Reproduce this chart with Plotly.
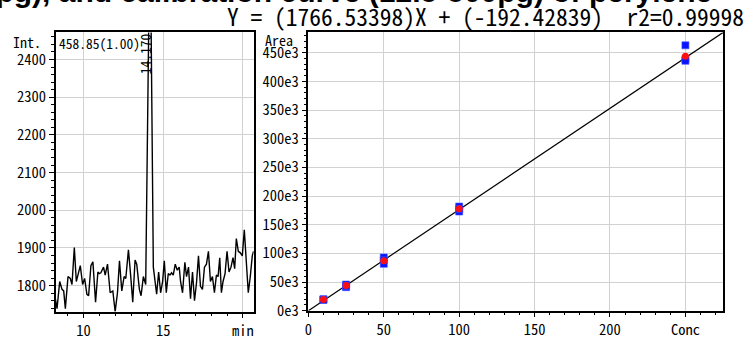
import plotly.graph_objects as go

# ---- chromatogram (m/z 458.85) ----
ret_time = [8.229, 8.333, 8.5, 8.646, 8.75, 8.854, 9.021, 9.167, 9.271, 9.417, 9.542, 9.688,
            9.792, 9.938, 10.063, 10.208, 10.313, 10.458, 10.583, 10.75, 10.896, 10.979, 11.083,
            11.25, 11.354, 11.5, 11.667, 11.833, 11.979, 12.125, 12.25, 12.396, 12.542, 12.646,
            12.813, 12.958, 13.083, 13.229, 13.333, 13.5, 13.604, 13.75, 13.896, 14.17, 14.375,
            14.583, 14.708, 14.833, 14.958, 15.063, 15.188, 15.313, 15.417, 15.521, 15.625,
            15.75, 15.875, 16.0, 16.083, 16.208, 16.354, 16.458, 16.583, 16.708, 16.833, 16.958,
            17.083, 17.208, 17.333, 17.458, 17.583, 17.708, 17.833, 17.958, 18.083, 18.208,
            18.333, 18.438, 18.542, 18.646, 18.75, 18.875, 19.0, 19.125, 19.25, 19.375, 19.479,
            19.583, 19.708, 19.833, 19.958, 20.083, 20.208, 20.333, 20.458, 20.583, 20.667]
intensity = [1765, 1739, 1811, 1790, 1786, 1739, 1824, 1819, 1803, 1901, 1811, 1832,
             1853, 1803, 1819, 1777, 1773, 1853, 1863, 1756, 1836, 1832, 1834,
             1849, 1828, 1857, 1781, 1786, 1731, 1781, 1866, 1786, 1824, 1819,
             1895, 1824, 1756, 1868, 1857, 1790, 1773, 1824, 1803, 2790, 1849,
             1777, 1836, 1781, 1811, 1866, 1781, 1832, 1828, 1834, 1828,
             1857, 1841, 1849, 1811, 1781, 1862, 1824, 1849, 1765, 1836, 1760,
             1807, 1879, 1798, 1790, 1849, 1857, 1891, 1811, 1824, 1781,
             1828, 1824, 1874, 1781, 1811, 1832, 1891, 1836, 1849, 1874, 1845,
             1925, 1891, 1887, 1879, 1948, 1866, 1781, 1824, 1879, 1891]

# ---- calibration ----
conc_levels = [10, 25, 50, 100, 250]
rep_conc = [10, 10, 10, 25, 25, 25, 50, 50, 50, 100, 100, 100, 250, 250, 250]
rep_area = [20000, 19500, 18800, 45600, 41000, 43200, 92800, 81700, 88000,
            181700, 173000, 177500, 463000, 439000, 436000]
mean_area = [19300, 44000, 87300, 177800, 444000]
slope = 1766.53398
intercept = -192.42839
r2 = 0.99998

chrom_xticks = [10, 15, 20]
chrom_xtext = ["10", "15", "min"]
chrom_yticks = [1800, 1900, 2000, 2100, 2200, 2300, 2400]
cal_xticks = [0, 50, 100, 150, 200, 250]
cal_xtext = ["0", "50", "100", "150", "200", "Conc"]
cal_yticks = [0, 50e3, 100e3, 150e3, 200e3, 250e3, 300e3, 350e3, 400e3, 450e3]
cal_ytext = ["0e3", "50e3", "100e3", "150e3", "200e3", "250e3", "300e3", "350e3", "400e3", "450e3"]

W, H = 745, 340
MONO = "Noto Sans Mono CJK JP, Liberation Mono, monospace"
TICKFONT = dict(family=MONO, size=14.5, color="black")
GRID = "#d2d2d2"

fig = go.Figure()

fig.add_trace(go.Scatter(x=ret_time, y=intensity, mode="lines",
                         line=dict(color="black", width=1.4),
                         xaxis="x", yaxis="y", hoverinfo="skip"))

x_end = 275
fig.add_trace(go.Scatter(x=[0, x_end], y=[intercept, slope * x_end + intercept], mode="lines",
                         line=dict(color="black", width=1.2),
                         xaxis="x2", yaxis="y2", hoverinfo="skip"))
fig.add_trace(go.Scatter(x=rep_conc, y=rep_area, mode="markers",
                         marker=dict(symbol="square", size=7, color="#0a14ff",
                                     line=dict(color="rgba(60,80,255,0.6)", width=1)),
                         xaxis="x2", yaxis="y2", hoverinfo="skip"))
fig.add_trace(go.Scatter(x=conc_levels, y=mean_area, mode="markers",
                         marker=dict(symbol="circle", size=7, color="#ff1010"),
                         xaxis="x2", yaxis="y2", hoverinfo="skip"))


def px_x(p):
    return p / W


def px_y(p):
    return 1 - p / H


axis_common = dict(showline=True, linecolor="black", linewidth=1.5, mirror=True,
                   ticks="outside", ticklen=5, tickwidth=1.2, tickcolor="black",
                   showgrid=True, gridcolor=GRID, gridwidth=1, zeroline=False,
                   tickfont=TICKFONT, fixedrange=True)

fig.update_layout(
    width=W, height=H, margin=dict(l=0, r=0, t=0, b=0),
    paper_bgcolor="white", plot_bgcolor="white", showlegend=False,
    xaxis=dict(domain=[px_x(52), px_x(251)], range=[8.25, 20.67], anchor="y",
               tickvals=chrom_xticks, ticktext=chrom_xtext,
               minor=dict(dtick=1, ticks="outside", ticklen=3, tickcolor="black", showgrid=False),
               **axis_common),
    yaxis=dict(domain=[px_y(327), px_y(34)], range=[1731, 2472], anchor="x",
               tickvals=chrom_yticks,
               minor=dict(dtick=20, ticks="outside", ticklen=3, tickcolor="black", showgrid=False),
               **axis_common),
    xaxis2=dict(domain=[px_x(306), px_x(723)], range=[0, x_end], anchor="y2",
                tickvals=cal_xticks, ticktext=cal_xtext,
                minor=dict(dtick=10, ticks="outside", ticklen=3, tickcolor="black", showgrid=False),
                **axis_common),
    yaxis2=dict(domain=[px_y(326), px_y(34)], range=[0, slope * x_end + intercept], anchor="x2",
                tickvals=cal_yticks, ticktext=cal_ytext,
                minor=dict(dtick=10e3, ticks="outside", ticklen=3, tickcolor="black", showgrid=False),
                **axis_common),
)

annotations = [
    dict(text="<b>SIM chromatogram (12.5pg), and calibration curve (12.5-500pg) of perylene</b>",
         x=px_x(714), y=px_y(11), xanchor="right", yanchor="bottom",
         font=dict(family="Liberation Sans, Arial, sans-serif", size=30, color="black")),
    dict(text=f"Y = ({slope:.5f})X + ({intercept:.5f})  r2={r2:.5f}",
         x=px_x(746), y=px_y(37), xanchor="right", yanchor="bottom",
         font=dict(family=MONO, size=23.5, color="black")),
    dict(text="Int.", x=px_x(7), y=px_y(32), xanchor="left", yanchor="top",
         font=dict(family=MONO, size=14, color="black")),
    dict(text="458.85(1.00)", x=px_x(53), y=px_y(33), xanchor="left", yanchor="top",
         font=dict(family=MONO, size=13.5, color="black")),
    dict(text="14.170", x=px_x(142), y=px_y(33), xanchor="center", yanchor="top",
         textangle=-90, font=dict(family=MONO, size=13.5, color="black")),
    dict(text="Area", x=px_x(260), y=px_y(29), xanchor="left", yanchor="top",
         font=dict(family=MONO, size=14, color="black")),
]
for a in annotations:
    a.update(xref="paper", yref="paper", showarrow=False)
fig.update_layout(annotations=annotations)

fig.write_html("out.html")
